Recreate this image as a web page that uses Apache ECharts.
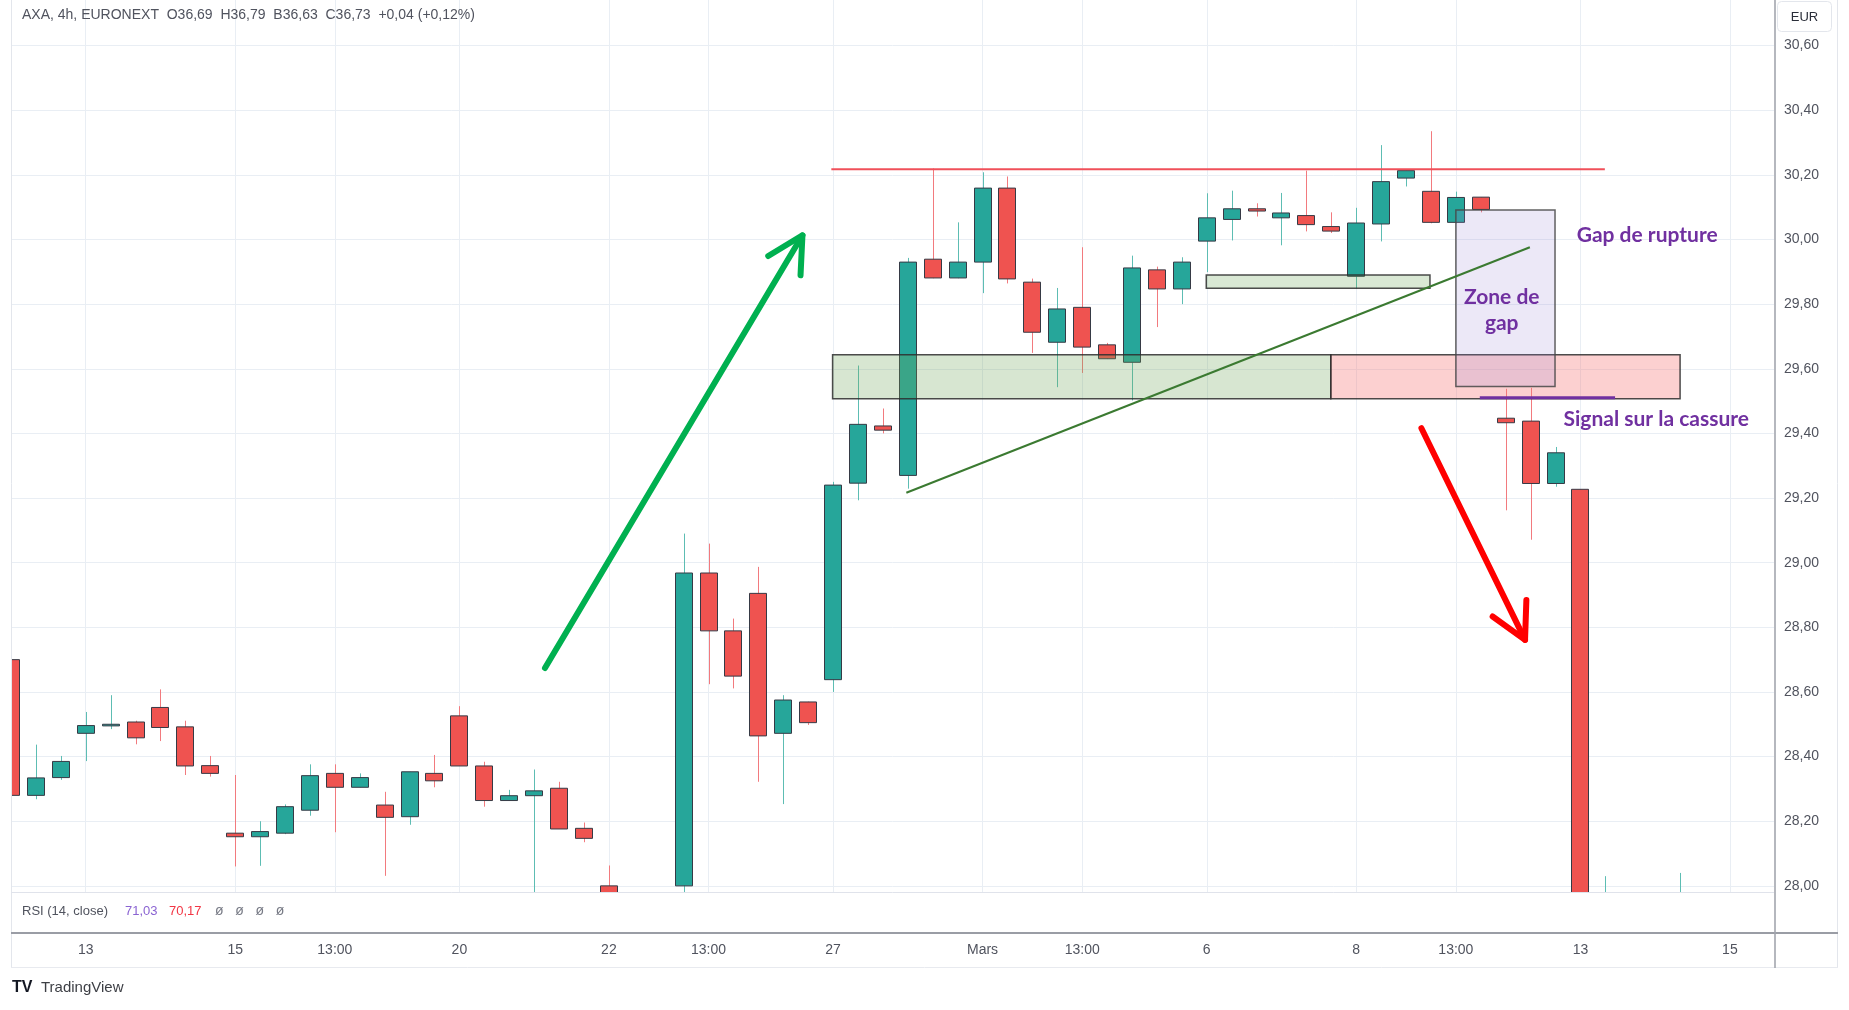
<!DOCTYPE html>
<html>
<head>
<meta charset="utf-8">
<script src="https://cdn.jsdelivr.net/npm/echarts@6/dist/echarts.min.js"></script>
<style>
html,body{margin:0;padding:0;background:#ffffff;overflow:hidden;}
#c{width:1849px;height:1010px;}
</style>
</head>
<body>
<div id="c"></div>
<script>
// ---------- DATA (AXA, 4h bars, Euronext; bar index 0 = 10 Feb 09:00, 3 bars per session) ----------
const opens  = [28.70,28.28,28.335,28.472,28.495,28.507,28.552,28.492,28.372,28.163,
                28.152,28.163,28.234,28.348,28.305,28.25,28.214,28.348,28.526,28.371,
                28.264,28.279,28.302,28.178,28.00,27.90,27.84,28.00,28.968,28.789,
                28.905,28.472,28.569,28.638,29.246,29.423,29.27,29.939,29.881,29.93,
                30.159,29.868,29.682,29.79,29.674,29.62,29.906,29.847,29.995,30.062,
                30.095,30.067,30.074,30.04,29.886,30.048,30.19,30.149,30.053,30.131,
                29.447,29.438,29.245,29.227,27.62,27.74,27.70,27.78];
const closes = [28.28,28.334,28.385,28.496,28.50,28.458,28.49,28.371,28.348,28.152,
                28.168,28.245,28.341,28.305,28.335,28.212,28.353,28.325,28.371,28.264,
                28.279,28.294,28.176,28.147,27.91,27.84,27.88,28.968,28.789,28.649,
                28.464,28.575,28.505,29.24,29.428,29.41,29.93,29.881,29.93,30.159,
                29.878,29.713,29.785,29.667,29.631,29.912,29.847,29.93,30.067,30.095,
                30.088,30.082,30.046,30.026,30.051,30.179,30.213,30.053,30.13,30.093,
                29.433,29.245,29.34,27.62,27.74,27.70,27.78,27.86];
const lows   = [28.28,28.268,28.328,28.386,28.485,28.438,28.448,28.343,28.338,28.06,
                28.062,28.16,28.217,28.166,28.305,28.031,28.189,28.305,28.371,28.245,
                28.264,27.96,28.176,28.135,27.86,27.80,27.78,27.96,28.624,28.611,
                28.322,28.253,28.498,28.60,29.193,29.40,29.229,29.88,29.88,29.834,
                29.864,29.649,29.543,29.587,29.63,29.502,29.729,29.80,29.899,29.997,
                30.071,29.982,30.025,30.02,29.848,29.994,30.164,30.05,30.05,30.084,
                29.162,29.071,29.235,27.55,27.52,27.60,27.64,27.70];
const highs  = [28.70,28.437,28.402,28.538,28.59,28.511,28.608,28.511,28.402,28.343,
                28.20,28.252,28.376,28.376,28.348,28.291,28.353,28.405,28.556,28.384,
                28.297,28.36,28.322,28.196,28.063,27.95,27.93,29.09,29.059,28.827,
                28.987,28.59,28.57,29.25,29.61,29.477,29.943,30.22,30.053,30.208,
                30.195,29.879,29.85,29.976,29.68,29.95,29.916,29.945,30.143,30.151,
                30.112,30.144,30.213,30.084,30.098,30.292,30.213,30.335,30.148,30.131,
                29.538,29.541,29.358,29.227,28.03,27.90,27.92,28.04];

// time-axis ticks (bar index -> label)
const xTickIdx    = [3, 9, 13, 18, 24, 28, 33, 39, 43, 48, 54, 58, 63, 69];
const xTickLabels = ['13','15','13:00','20','22','13:00','27','Mars','13:00','6','8','13:00','13','15'];
// price-axis ticks
const yTicks = [28.0, 28.2, 28.4, 28.6, 28.8, 29.0, 29.2, 29.4, 29.6, 29.8, 30.0, 30.2, 30.4, 30.6];

// annotations, in data units (bar index, price)
const zoneRects = [            // [k1, pTop, k2, pBottom]
  [32.98, 29.643, 52.98, 29.507],
  [52.98, 29.643, 67.00, 29.507],
  [47.98, 29.890, 56.96, 29.849],
  [58.00, 30.091, 61.98, 29.545]
];
const resistanceLine = [[32.93, 30.217], [63.98, 30.217]];
const trendLine      = [[35.94, 29.2165], [60.97, 29.976]];
const signalLine     = [[58.96, 29.510], [64.39, 29.510]];
const arrows = [               // [k1, p1, k2(tip), p2(tip)]
  [21.435, 28.674, 31.77, 30.013],
  [56.617, 29.416, 60.776, 28.761]
];
const noteTexts  = ['Gap de rupture', 'Zone de', 'gap', 'Signal sur la cassure'];
const noteAnchor = [[62.85, 30.013], [59.84, 29.822], [59.84, 29.740], [62.32, 29.443]];

// ---------- STYLES ----------
const FONT = 'Liberation Sans, Arial, sans-serif';
const TEXT_GRAY = '#50535e';
const GRID_COL = '#e9eef4';
const UP = '#26a69a', DOWN = '#ef5350';
const WICK_UP = '#5dbdb3', WICK_DOWN = '#f27a7e';
const BODY_BORDER = '#363a45';
const BODY_W = 18;
const zoneStyles = [
  {fill:'rgba(110,165,90,0.28)',  stroke:'rgba(45,45,45,0.85)'},
  {fill:'rgba(245,120,120,0.35)', stroke:'rgba(45,45,45,0.85)'},
  {fill:'rgba(110,165,90,0.26)',  stroke:'rgba(45,45,45,0.85)'},
  {fill:'rgba(150,130,210,0.18)', stroke:'rgba(70,70,70,0.85)'}
];
const arrowColors = ['#00b050', '#ff0000'];
const noteAlign = ['left', 'center', 'center', 'left'];

const X_MIN = 0, X_MAX = 70.77;
const Y_MIN = 27.981, Y_MAX = 30.741;

const candleData = opens.map((o, i) => [i, o, closes[i], lows[i], highs[i]]);

const chart = echarts.init(document.getElementById('c'), null, {renderer: 'canvas', width: 1849, height: 1010});

const fmtPrice = v => v.toFixed(2).replace('.', ',');
const fmtTime = v => { const i = xTickIdx.indexOf(Math.round(v)); return i >= 0 ? xTickLabels[i] : ''; };

const option = {
  animation: false,
  backgroundColor: '#ffffff',
  grid: [
    {left: 11, right: 75, top: 0, height: 892},
    {left: 11, right: 75, top: 892, height: 41}
  ],
  xAxis: [
    {type: 'value', gridIndex: 0, min: X_MIN, max: X_MAX,
     axisLine: {show: false}, axisTick: {show: false, customValues: xTickIdx},
     axisLabel: {show: false, customValues: xTickIdx},
     splitLine: {show: true, lineStyle: {color: GRID_COL, width: 1}}},
    {type: 'value', gridIndex: 1, min: X_MIN, max: X_MAX,
     axisLine: {show: false}, axisTick: {show: false, customValues: xTickIdx},
     axisLabel: {customValues: xTickIdx, formatter: fmtTime, margin: 10, fontSize: 14, color: TEXT_GRAY, fontFamily: FONT},
     splitLine: {show: false}}
  ],
  yAxis: [
    {type: 'value', gridIndex: 0, position: 'right', min: Y_MIN, max: Y_MAX,
     axisLine: {show: false}, axisTick: {show: false, customValues: yTicks},
     axisLabel: {customValues: yTicks, formatter: fmtPrice, margin: 10, fontSize: 14, color: TEXT_GRAY, fontFamily: FONT},
     splitLine: {show: true, lineStyle: {color: GRID_COL, width: 1}}},
    {type: 'value', gridIndex: 1, min: 0, max: 100, show: false}
  ],
  series: [
    {type: 'custom', name: 'AXA', xAxisIndex: 0, yAxisIndex: 0, data: candleData, clip: true, silent: true, z: 3,
     encode: {x: 0, y: [1, 2, 3, 4]},
     renderItem: function (params, api) {
       const k = api.value(0), o = api.value(1), c = api.value(2), l = api.value(3), h = api.value(4);
       const pO = api.coord([k, o]), pC = api.coord([k, c]), pL = api.coord([k, l]), pH = api.coord([k, h]);
       const up = c >= o;
       const cx = Math.round(pO[0]);
       const top = Math.min(pO[1], pC[1]), bot = Math.max(pO[1], pC[1]);
       return {type: 'group', children: [
         {type: 'line', shape: {x1: cx + 0.5, y1: pH[1], x2: cx + 0.5, y2: pL[1]},
          style: {stroke: up ? WICK_UP : WICK_DOWN, lineWidth: 1}},
         {type: 'rect', shape: {x: cx - BODY_W / 2 + 0.5, y: top, width: BODY_W - 1, height: Math.max(bot - top, 1)},
          style: {fill: up ? UP : DOWN, stroke: BODY_BORDER, lineWidth: 1}}
       ]};
     }},
    {type: 'custom', name: 'zones', xAxisIndex: 0, yAxisIndex: 0, data: zoneRects, z: 4, silent: true,
     encode: {x: [0, 2], y: [1, 3]},
     renderItem: function (params, api) {
       const a = api.coord([api.value(0), api.value(1)]);
       const b = api.coord([api.value(2), api.value(3)]);
       const s = zoneStyles[params.dataIndex];
       return {type: 'rect', z2: params.dataIndex,
         shape: {x: Math.min(a[0], b[0]), y: Math.min(a[1], b[1]), width: Math.abs(b[0] - a[0]), height: Math.abs(b[1] - a[1])},
         style: {fill: s.fill, stroke: s.stroke, lineWidth: 1.5}};
     }},
    {type: 'line', name: 'resistance', data: resistanceLine, symbol: 'none', silent: true, z: 5,
     lineStyle: {color: '#f0505a', width: 2}},
    {type: 'line', name: 'trend', data: trendLine, symbol: 'none', silent: true, z: 5,
     lineStyle: {color: '#3b7a31', width: 2}},
    {type: 'line', name: 'signal', data: signalLine, symbol: 'none', silent: true, z: 5,
     lineStyle: {color: '#7030a0', width: 3}},
    {type: 'custom', name: 'arrows', data: arrows, z: 6, silent: true, clip: false,
     encode: {x: [0, 2], y: [1, 3]},
     renderItem: function (params, api) {
       const a = api.coord([api.value(0), api.value(1)]);
       const b = api.coord([api.value(2), api.value(3)]);
       const ang = Math.atan2(a[1] - b[1], a[0] - b[0]);
       const L = 40, d = 28 * Math.PI / 180;
       const w1 = [b[0] + L * Math.cos(ang + d), b[1] + L * Math.sin(ang + d)];
       const w2 = [b[0] + L * Math.cos(ang - d), b[1] + L * Math.sin(ang - d)];
       const col = arrowColors[params.dataIndex];
       return {type: 'group', children: [
         {type: 'polyline', shape: {points: [a, b]}, style: {stroke: col, lineWidth: 6, lineCap: 'round', fill: null}},
         {type: 'polyline', shape: {points: [w1, b, w2]}, style: {stroke: col, lineWidth: 6, lineCap: 'round', lineJoin: 'round', fill: null}}
       ]};
     }},
    {type: 'custom', name: 'notes', data: noteAnchor, z: 7, silent: true, clip: false,
     renderItem: function (params, api) {
       const p = api.coord([api.value(0), api.value(1)]);
       return {type: 'text', x: p[0], y: p[1],
         style: {text: noteTexts[params.dataIndex], fill: '#7030a0', font: 'bold 21px Lato, sans-serif',
                 align: noteAlign[params.dataIndex], verticalAlign: 'middle'}};
     }}
  ],
  graphic: [
    // frame lines
    {type: 'line', z: 50, shape: {x1: 11.5, y1: 0, x2: 11.5, y2: 967}, style: {stroke: '#e3e6ec', lineWidth: 1}},
    {type: 'line', z: 50, shape: {x1: 1837.5, y1: 0, x2: 1837.5, y2: 967}, style: {stroke: '#e3e6ec', lineWidth: 1}},
    {type: 'line', z: 50, shape: {x1: 11, y1: 892.5, x2: 1774, y2: 892.5}, style: {stroke: '#e0e3eb', lineWidth: 1}},
    {type: 'line', z: 50, shape: {x1: 11, y1: 933, x2: 1838, y2: 933}, style: {stroke: '#9a9da5', lineWidth: 2}},
    {type: 'line', z: 50, shape: {x1: 11, y1: 967.5, x2: 1838, y2: 967.5}, style: {stroke: '#e8eaef', lineWidth: 1}},
    {type: 'line', z: 50, shape: {x1: 1775, y1: 0, x2: 1775, y2: 968}, style: {stroke: '#a3a6ae', lineWidth: 1.6}},
    // header legend
    {type: 'text', z: 50, x: 22, y: 15, style: {text: 'AXA, 4h, EURONEXT  O36,69  H36,79  B36,63  C36,73  +0,04 (+0,12%)',
      fill: TEXT_GRAY, font: '14px ' + FONT, verticalAlign: 'middle'}},
    // currency box
    {type: 'rect', z: 50, shape: {x: 1777.5, y: 1.5, width: 54, height: 30, r: 4}, style: {fill: '#ffffff', stroke: '#e3e6ec', lineWidth: 1}},
    {type: 'text', z: 51, x: 1804.5, y: 17, style: {text: 'EUR', fill: '#2a2e39', font: '13px ' + FONT, align: 'center', verticalAlign: 'middle'}},
    // RSI pane legend
    {type: 'text', z: 50, x: 22, y: 911, style: {text: 'RSI (14, close)', fill: TEXT_GRAY, font: '13px ' + FONT, verticalAlign: 'middle'}},
    {type: 'text', z: 50, x: 125, y: 911, style: {text: '71,03', fill: '#8a63d2', font: '13px ' + FONT, verticalAlign: 'middle'}},
    {type: 'text', z: 50, x: 169, y: 911, style: {text: '70,17', fill: '#f23645', font: '13px ' + FONT, verticalAlign: 'middle'}},
    {type: 'text', z: 50, x: 215, y: 911, style: {text: 'ø   ø   ø   ø', fill: '#787b86', font: '14px ' + FONT, verticalAlign: 'middle'}},
    // branding
    {type: 'text', z: 50, x: 12, y: 988, style: {text: 'TV', fill: '#131722', font: '900 16px ' + FONT, verticalAlign: 'middle'}},
    {type: 'text', z: 50, x: 41, y: 988, style: {text: 'TradingView', fill: '#3d3f45', font: '15px ' + FONT, verticalAlign: 'middle'}}
  ]
};
chart.setOption(option);
</script>
</body>
</html>
